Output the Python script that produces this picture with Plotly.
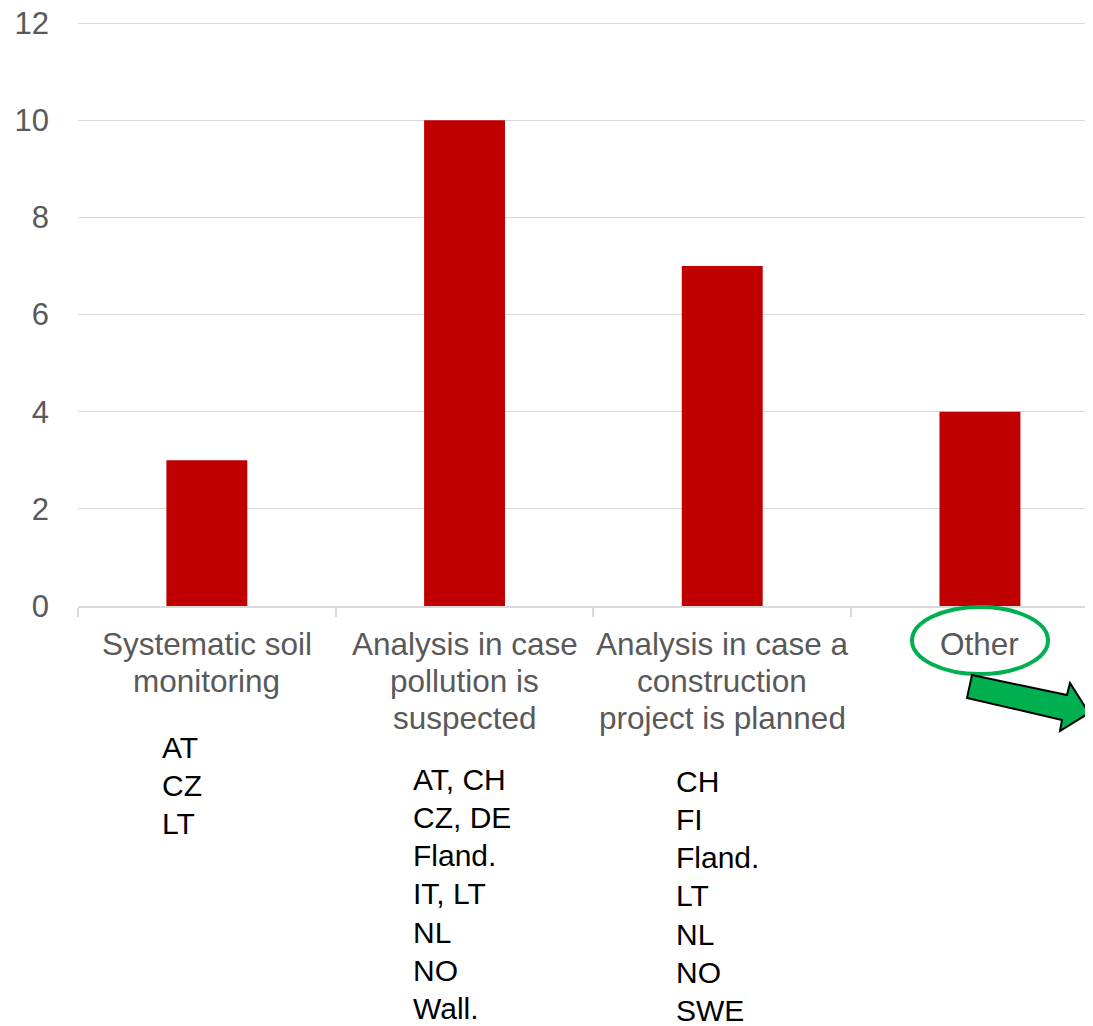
import plotly.graph_objects as go

# ---- data ----
categories = ["Systematic soil monitoring",
              "Analysis in case pollution is suspected",
              "Analysis in case a construction project is planned",
              "Other"]
category_lines = [["Systematic soil", "monitoring"],
                  ["Analysis in case", "pollution is", "suspected"],
                  ["Analysis in case a", "construction", "project is planned"],
                  ["Other"]]
counts = [3, 10, 7, 4]
countries = [["AT", "CZ", "LT"],
             ["AT, CH", "CZ, DE", "Fland.", "IT, LT", "NL", "NO", "Wall."],
             ["CH", "FI", "Fland.", "LT", "NL", "NO", "SWE"],
             []]
y_ticks = [0, 2, 4, 6, 8, 10, 12]

# ---- layout constants ----
OFF = 8                      # default page body margin
W, H = 1093, 1026 - OFF
ML, MR, MT, MB = 78 - OFF, 0, 21 - OFF, 420
PW = W - ML - MR
PH = H - MT - MB
Y_BOTTOM = 606               # window pixel of y = 0
CAT_PX = 257.7               # pixels per category
FONT = "Liberation Sans, Arial, sans-serif"
GRAY = "#595959"
GRID = "#d9d9d9"
GREEN = "#00B050"


def px_to_paper(px, py):
    return (px - OFF - ML) / PW, (Y_BOTTOM - py) / PH


fig = go.Figure()
fig.add_trace(go.Bar(x=categories, y=counts, marker_color="#C00000",
                     marker_line_width=0, width=0.314))

annotations = []
# category labels (one annotation per line for tight line spacing)
cat_first_center = 644
cat_spacing = 37
for cat, lines in zip(categories, category_lines):
    for j, line in enumerate(lines):
        annotations.append(dict(
            x=cat, y=0, xref="x", yref="y", text=line, showarrow=False,
            xanchor="center", yanchor="middle",
            yshift=Y_BOTTOM - (cat_first_center + j * cat_spacing),
            font=dict(family=FONT, size=31.5, color=GRAY)))

# country lists
list_first_center = [747, 779, 781, 0]
list_left_shift = [-47, -54, -48, 0]
list_spacing = 38.3
for i, (cat, lst) in enumerate(zip(categories, countries)):
    for j, item in enumerate(lst):
        annotations.append(dict(
            x=cat, y=0, xref="x", yref="y", text=item, showarrow=False,
            xanchor="left", yanchor="middle", xshift=list_left_shift[i],
            yshift=Y_BOTTOM - (list_first_center[i] + j * list_spacing),
            font=dict(family=FONT, size=30, color="black")))

shapes = []
# green ellipse around "Other"
ex0, ey0 = px_to_paper(912, 607)
ex1, ey1 = px_to_paper(1048, 674)
shapes.append(dict(type="circle", xref="paper", yref="paper",
                   x0=ex0, x1=ex1, y0=ey1, y1=ey0,
                   line=dict(color=GREEN, width=4), layer="above"))
# green block arrow
arrow_px = [(972, 675), (1067, 695), (1070, 683), (1089, 713),
            (1060, 731), (1062, 720), (967, 698)]
pts = [px_to_paper(a, b) for a, b in arrow_px]
path = "M " + " L ".join(f"{a:.5f},{b:.5f}" for a, b in pts) + " Z"
shapes.append(dict(type="path", xref="paper", yref="paper", path=path,
                   fillcolor=GREEN, line=dict(color="black", width=2),
                   layer="above"))

fig.update_layout(
    width=W, height=H,
    margin=dict(l=ML, r=MR, t=MT, b=MB, pad=0),
    paper_bgcolor="white", plot_bgcolor="white",
    showlegend=False,
    annotations=annotations,
    shapes=shapes,
    font=dict(family=FONT),
)
fig.update_xaxes(type="category", range=[-0.5, -0.5 + PW / CAT_PX],
                 showticklabels=False,
                 ticks="outside", tickson="boundaries", ticklen=9,
                 tickcolor=GRID, tickwidth=1.5,
                 showline=True, linecolor=GRID, linewidth=1.5,
                 showgrid=False, zeroline=False, automargin=False)
fig.update_yaxes(range=[0, 12 + 2 / 48.58], tickvals=y_ticks,
                 ticktext=[str(v) for v in y_ticks],
                 showgrid=True, gridcolor=GRID, gridwidth=1,
                 zeroline=False, showline=False, ticks="",
                 ticklabelstandoff=28, ticklabeloverflow="allow",
                 tickfont=dict(family=FONT, size=31, color=GRAY),
                 automargin=False)

fig.write_html("out.html")
